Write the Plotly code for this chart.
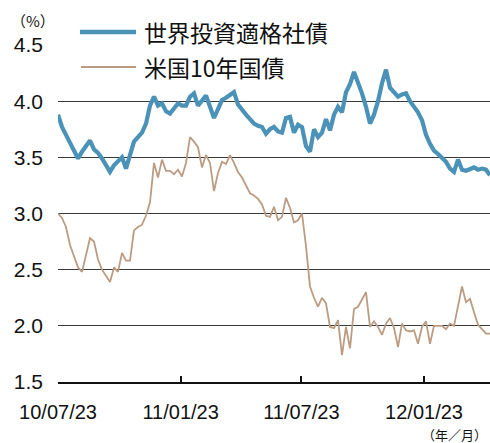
import pandas as pd
import plotly.graph_objects as go

start_date = "2010-07-23"
step = "6D"

corp_bond = [
    3.88, 3.77, 3.70, 3.63, 3.56, 3.49, 3.55, 3.60, 3.65, 3.57,
    3.54, 3.49, 3.43, 3.37, 3.43, 3.47, 3.50, 3.40, 3.52, 3.64,
    3.68, 3.72, 3.80, 3.96, 4.04, 3.96, 3.98, 3.91, 3.89, 3.94,
    3.98, 3.96, 3.96, 4.04, 4.07, 3.96, 4.00, 4.05, 3.95, 3.85,
    3.93, 4.01, 4.03, 4.06, 4.08, 3.97, 3.92, 3.88, 3.84, 3.80,
    3.78, 3.77, 3.71, 3.75, 3.77, 3.73, 3.72, 3.85, 3.86, 3.72,
    3.79, 3.77, 3.60, 3.55, 3.75, 3.68, 3.72, 3.84, 3.74, 3.88,
    3.95, 3.90, 4.08, 4.15, 4.26, 4.17, 4.07, 3.95, 3.80, 3.88,
    4.00, 4.16, 4.28, 4.12, 4.08, 4.04, 4.06, 4.07, 4.00, 3.95,
    3.90, 3.83, 3.70, 3.62, 3.56, 3.53, 3.50, 3.46, 3.40, 3.37,
    3.48, 3.39, 3.38, 3.40, 3.41, 3.39, 3.40, 3.39, 3.34,
]

us10y = [
    3.00, 2.96, 2.88, 2.72, 2.62, 2.52, 2.48, 2.64, 2.78, 2.75,
    2.59, 2.50, 2.44, 2.39, 2.52, 2.48, 2.65, 2.58, 2.58, 2.85,
    2.88, 2.90, 2.98, 3.10, 3.45, 3.32, 3.48, 3.38, 3.38, 3.35,
    3.39, 3.33, 3.45, 3.68, 3.64, 3.59, 3.41, 3.52, 3.45, 3.20,
    3.36, 3.46, 3.44, 3.52, 3.45, 3.37, 3.32, 3.25, 3.18, 3.16,
    3.13, 3.08, 2.98, 2.97, 3.06, 2.94, 2.97, 3.14, 3.05, 2.92,
    2.94, 3.00, 2.71, 2.35, 2.25, 2.17, 2.25, 2.20, 1.99, 1.98,
    2.05, 1.74, 1.99, 1.80, 2.15, 2.17, 2.23, 2.30, 1.99, 2.04,
    1.99, 1.92, 2.02, 2.07, 1.98, 1.81, 2.02, 1.96, 1.95, 1.96,
    1.84, 1.99, 2.04, 1.84, 2.00, 2.00, 2.00, 1.97, 2.02, 2.00,
    2.18, 2.35, 2.21, 2.24, 2.12, 2.01, 1.97, 1.93, 1.93,
]

dates = pd.date_range(start_date, periods=len(corp_bond), freq=step)

tick_dates = ["2010-07-23", "2011-01-23", "2011-07-23", "2012-01-23"]
tick_labels = ["10/07/23", "11/01/23", "11/07/23", "12/01/23"]
y_ticks = [1.5, 2.0, 2.5, 3.0, 3.5, 4.0, 4.5]
y_labels = ["1.5", "2.0", "2.5", "3.0", "3.5", "4.0", "4.5"]

name_corp = "世界投資適格社債"
name_us = "米国10年国債"

BLUE = "#4a92b8"
TAN = "#bb9c82"
FONT = "Liberation Sans, Arial, Noto Sans CJK JP, sans-serif"
CJK = "Noto Sans CJK JP, sans-serif"

fig = go.Figure()
fig.add_trace(go.Scatter(x=dates, y=us10y, mode="lines", name=name_us,
                         line=dict(color=TAN, width=1.8), showlegend=False))
fig.add_trace(go.Scatter(x=dates, y=corp_bond, mode="lines", name=name_corp,
                         line=dict(color=BLUE, width=4.2), showlegend=False))

# plot area on screen: x 58..490, y 45..382
W, L = 432.0, 58.0
H, B = 337.0, 382.0
px = lambda v: (v - L) / W
py = lambda v: (B - v) / H

shapes = [
    dict(type="rect", xref="paper", yref="paper", x0=px(67), x1=px(338),
         y0=py(50), y1=py(40), fillcolor="white", line=dict(width=0), layer="above"),
    dict(type="line", xref="paper", yref="paper", x0=px(80), x1=px(136),
         y0=py(32), y1=py(32), line=dict(color=BLUE, width=4.5), layer="above"),
    dict(type="line", xref="paper", yref="paper", x0=px(81), x1=px(136),
         y0=py(67), y1=py(67), line=dict(color=TAN, width=2), layer="above"),
]

annotations = [
    dict(text=name_corp, xref="paper", yref="paper", x=px(142), y=py(32),
         xanchor="left", yanchor="middle", showarrow=False,
         font=dict(family=CJK, size=23, color="#111")),
    dict(text=name_us, xref="paper", yref="paper", x=px(142), y=py(67),
         xanchor="left", yanchor="middle", showarrow=False,
         font=dict(family=CJK, size=23, color="#111")),
    dict(text="（%）", xref="paper", yref="paper", x=px(9), y=py(21),
         xanchor="left", yanchor="middle", showarrow=False,
         font=dict(family=CJK, size=15, color="#111")),
    dict(text="（年／月）", xref="paper", yref="paper", x=px(489), y=py(434),
         xanchor="right", yanchor="middle", showarrow=False,
         font=dict(family=CJK, size=13, color="#111")),
]

fig.update_layout(
    width=490, height=443,
    margin=dict(l=58, r=0, t=45, b=61, autoexpand=False),
    paper_bgcolor="white", plot_bgcolor="white",
    font=dict(family=FONT, color="#111"),
    shapes=shapes, annotations=annotations,
    showlegend=False, hovermode=False,
)
fig.update_xaxes(
    range=[dates[0], dates[-1]], automargin=False,
    tickvals=pd.to_datetime(tick_dates), ticktext=tick_labels,
    tickfont=dict(size=20, family=FONT),
    showgrid=False, showline=True, linecolor="#111", linewidth=2,
    ticks="inside", ticklen=6, tickwidth=2, tickcolor="#111",
    ticklabelstandoff=11, zeroline=False,
)
fig.update_yaxes(
    range=[1.5, 4.5], tickvals=y_ticks, ticktext=y_labels, automargin=False,
    tickfont=dict(size=21, family=FONT),
    showgrid=True, gridcolor="#3a3a3a", gridwidth=1,
    showline=False, ticks="", zeroline=False,
    ticklabelstandoff=14,
)

fig.write_html(
    "out.html",
    config={"displayModeBar": False, "staticPlot": True},
    post_script="document.body.style.margin='0';document.body.style.overflow='hidden';",
)
